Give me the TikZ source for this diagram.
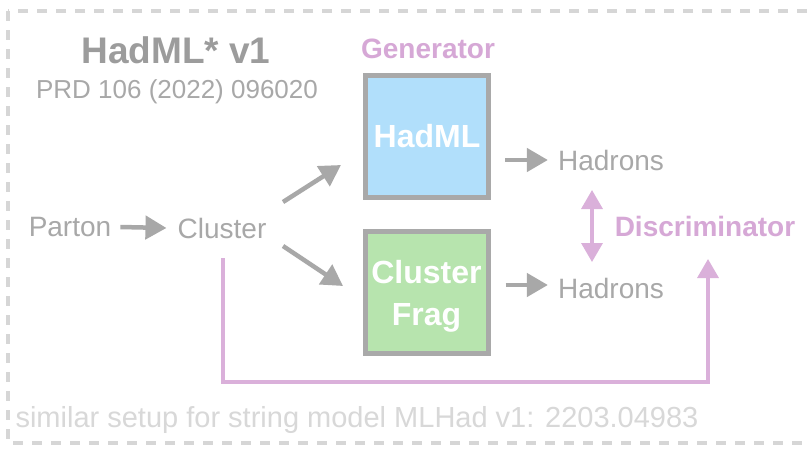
\documentclass[tikz,border=0pt]{standalone}
\usepackage{fontspec}
\setmainfont{Liberation Sans}
\usetikzlibrary{arrows.meta}
\definecolor{tgray}{HTML}{A8A8A8}
\definecolor{ttitle}{HTML}{9C9C9C}
\definecolor{agray}{HTML}{A8A8A8}
\definecolor{pinkc}{HTML}{DAB0DA}
\definecolor{pinkt}{HTML}{D6A8D6}
\definecolor{bluef}{HTML}{B1DFFB}
\definecolor{greenf}{HTML}{B7E4AE}
\definecolor{bordc}{HTML}{A9A9A9}
\definecolor{footc}{HTML}{D8D8D8}
\definecolor{dashc}{HTML}{D6D6D6}
\tikzset{
  lbl/.style={inner sep=0pt, text=tgray, font=\fontsize{28}{34}\selectfont},
  blbl/.style={inner sep=0pt, text=pinkt, font=\bfseries\fontsize{28}{34}\selectfont},
  boxn/.style={draw=bordc, line width=5pt, minimum width=123pt, minimum height=122pt, inner sep=0pt,
    text=white, font=\bfseries\fontsize{32}{42}\selectfont, align=center},
  garrow/.style={draw=agray, line width=4.5pt, -{Triangle[length=21pt,width=23pt]}},
  parrow/.style={draw=pinkc, line width=3.4pt, -{Triangle[length=19pt,width=21pt]}},
  pdarrow/.style={draw=pinkc, line width=3.4pt, {Triangle[length=19pt,width=21pt]}-{Triangle[length=19pt,width=21pt]}}
}
\begin{document}
\begin{tikzpicture}[x=1pt,y=-1pt]
\useasboundingbox (0,0) rectangle (808,448);
\clip (0,0) rectangle (808,448);
\fill[white] (0,0) rectangle (808,448);
% dashed frame
\draw[dashc, line width=4pt, dash pattern=on 10pt off 9pt] (8,11) rectangle (840,443);
% title
\node[inner sep=0pt, text=ttitle, font=\bfseries\fontsize{37}{44}\selectfont] (title) at (176,50) {HadML* v1};
\node[lbl, font=\fontsize{26}{30}\selectfont] (prd) at (177,92) {PRD 106 (2022) 096020};
\node[blbl] (gen) at (428,49) {Generator};
% boxes
\node[boxn, fill=bluef] (hadml) at (427,136.5) {HadML};
\node[boxn, fill=greenf] (frag) at (426.5,292.5) {};
\node[inner sep=0pt, text=white, font=\bfseries\fontsize{32}{42}\selectfont, align=center] (fragtxt) at (426.5,296) {Cluster\\Frag};
% labels
\node[lbl] (parton) at (70,227) {Parton};
\node[lbl] (cluster) at (222,228) {Cluster};
\node[lbl] (had1) at (611,160) {Hadrons};
\node[lbl] (had2) at (611,288) {Hadrons};
\node[blbl] (disc) at (705,226) {Discriminator};
\node[inner sep=0pt, text=footc, font=\fontsize{29}{34}\selectfont] (foot) at (357,420) {similar setup for string model MLHad v1: 2203.04983};
% coordinates
\coordinate (c1s) at (283,202);
\coordinate (c1e) at (341,165);
\coordinate (c2s) at (283,246);
\coordinate (c2e) at (343,286);
\coordinate (dtop) at (592,190);
\coordinate (dbot) at (592,262);
\coordinate (lstart) at (223,258);
\coordinate (lcorner) at (223,382);
\coordinate (lend) at (708,259);
% arrows
\draw[garrow] ([xshift=9pt]parton.east) -- ([xshift=-11pt]cluster.west);
\draw[garrow] (c1s) -- (c1e);
\draw[garrow] (c2s) -- (c2e);
\draw[garrow] ([xshift=14pt]hadml.east |- had1.west) -- ([xshift=-10pt]had1.west);
\draw[garrow] ([xshift=15pt,yshift=3pt]frag.east |- had2.west) -- ([xshift=-10pt,yshift=3pt]had2.west);
\draw[pdarrow] (dtop) -- (dbot);
\draw[parrow] (lstart) -- (lcorner) -| (lend);
\end{tikzpicture}
\end{document}
